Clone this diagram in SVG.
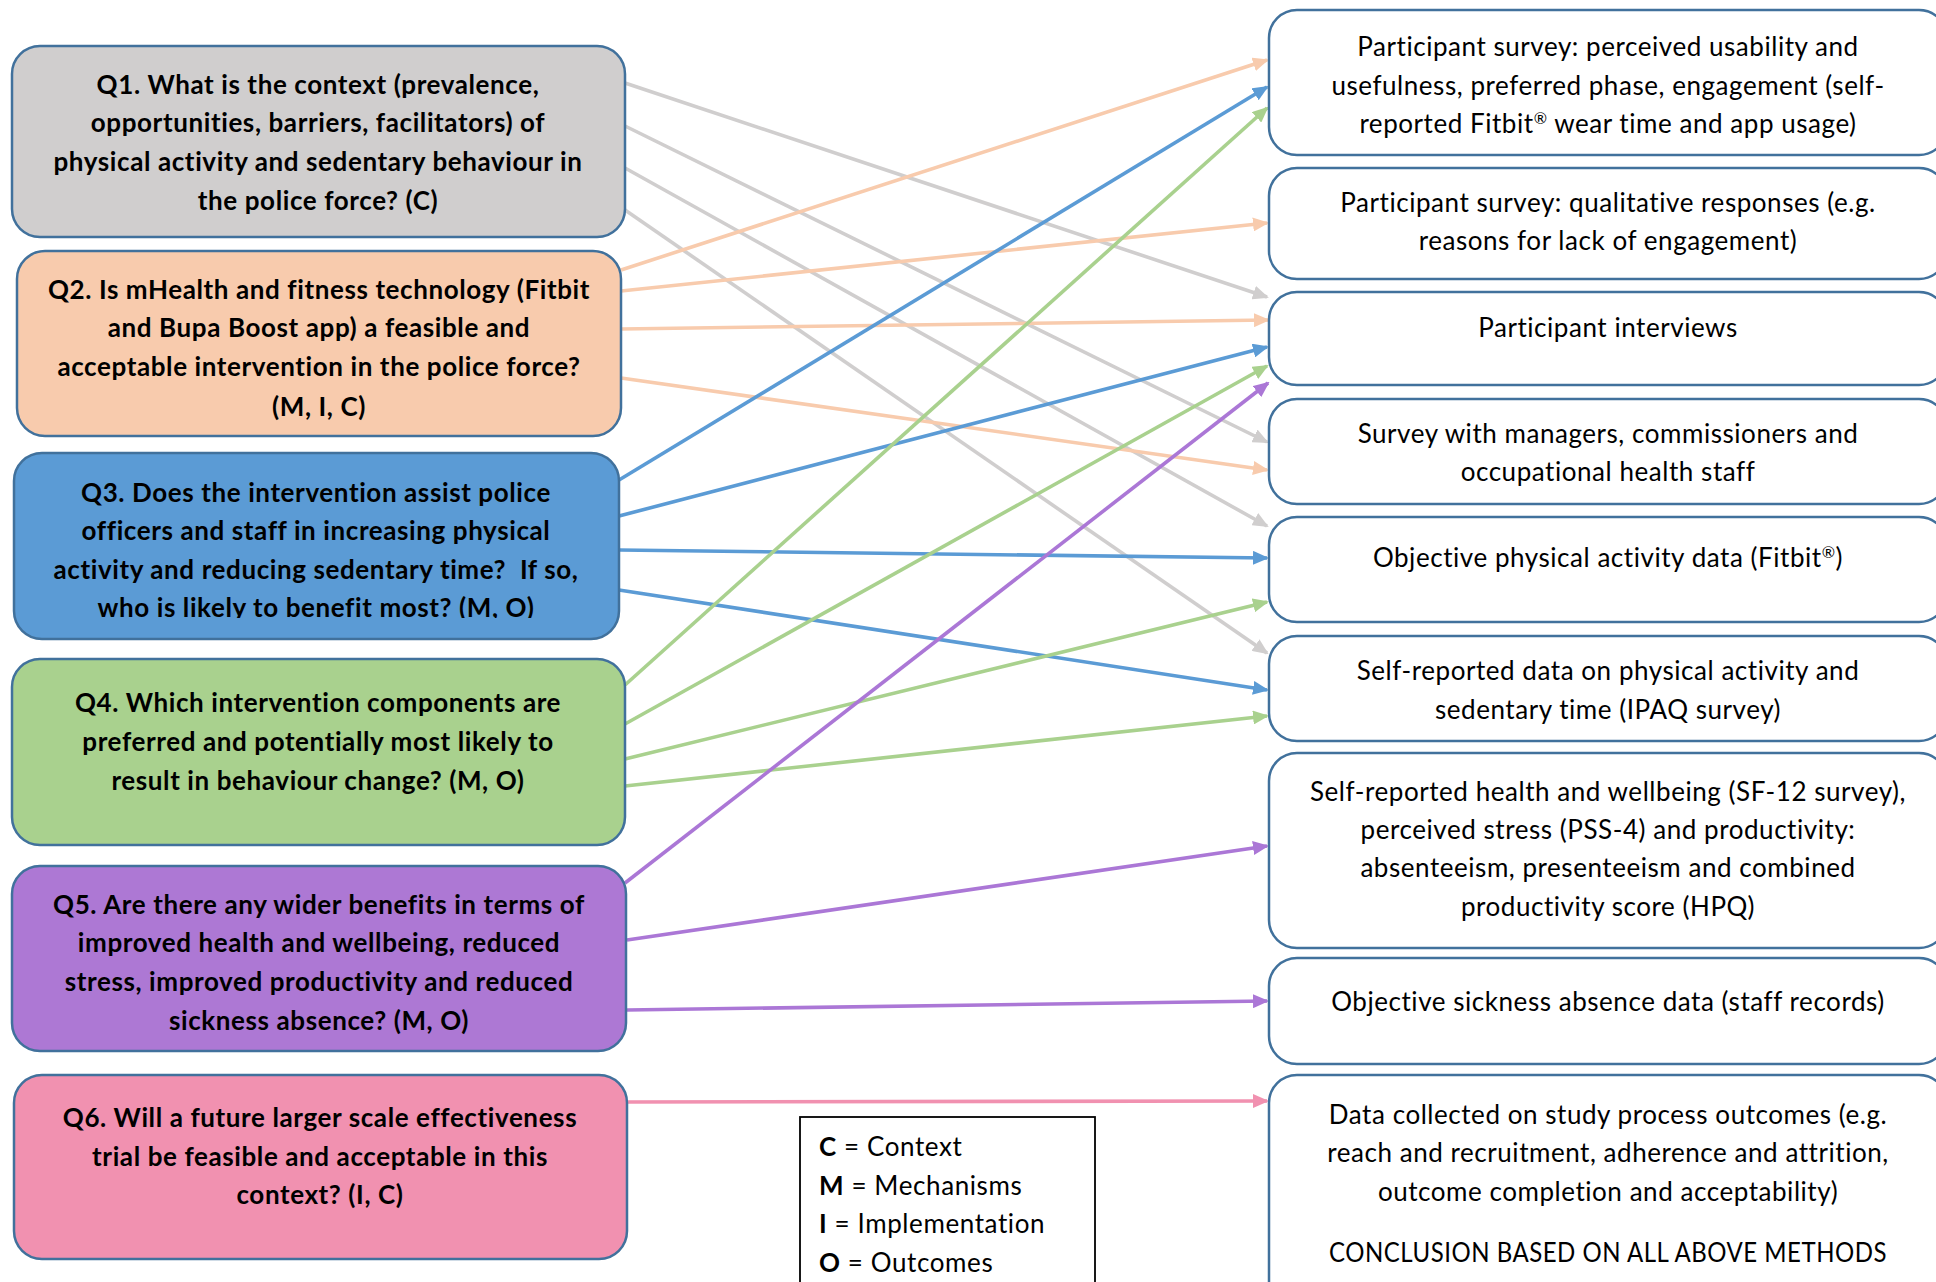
<svg xmlns="http://www.w3.org/2000/svg" width="1936" height="1282" viewBox="0 0 1936 1282">
<style>
.q{stroke:#41719C;stroke-width:2.5}
.r{fill:#FFFFFF;stroke:#41719C;stroke-width:2.5}
.qt{font-family:Lato,"Liberation Sans",sans-serif;font-weight:bold;font-size:26px;letter-spacing:0.6px;fill:#000;text-anchor:middle}
.rt{font-family:Lato,"Liberation Sans",sans-serif;font-size:26px;letter-spacing:0.55px;fill:#000;text-anchor:middle}
.lg{font-family:Lato,"Liberation Sans",sans-serif;font-size:26px;letter-spacing:0.6px;fill:#000}
.c{fill:none;stroke-width:3.6}
.sup{font-size:16px}
</style>
<defs>
<marker id="aG" viewBox="0 0 16 14" refX="14" refY="7" markerWidth="16" markerHeight="14" markerUnits="userSpaceOnUse" orient="auto"><path d="M0,0 L16,7 L0,14 z" fill="#D0CECE"/></marker>
<marker id="aP" viewBox="0 0 16 14" refX="14" refY="7" markerWidth="16" markerHeight="14" markerUnits="userSpaceOnUse" orient="auto"><path d="M0,0 L16,7 L0,14 z" fill="#F8CBAD"/></marker>
<marker id="aB" viewBox="0 0 16 14" refX="14" refY="7" markerWidth="16" markerHeight="14" markerUnits="userSpaceOnUse" orient="auto"><path d="M0,0 L16,7 L0,14 z" fill="#5B9BD5"/></marker>
<marker id="aN" viewBox="0 0 16 14" refX="14" refY="7" markerWidth="16" markerHeight="14" markerUnits="userSpaceOnUse" orient="auto"><path d="M0,0 L16,7 L0,14 z" fill="#A9D18E"/></marker>
<marker id="aU" viewBox="0 0 16 14" refX="14" refY="7" markerWidth="16" markerHeight="14" markerUnits="userSpaceOnUse" orient="auto"><path d="M0,0 L16,7 L0,14 z" fill="#AB77D6"/></marker>
<marker id="aK" viewBox="0 0 16 14" refX="14" refY="7" markerWidth="16" markerHeight="14" markerUnits="userSpaceOnUse" orient="auto"><path d="M0,0 L16,7 L0,14 z" fill="#F191B0"/></marker>
<clipPath id="q3clip"><rect x="0" y="440" width="700" height="178"/></clipPath>
</defs>
<rect width="1936" height="1282" fill="#FFFFFF"/>

<g id="connectors">
<path class="c" stroke="#D0CECE" marker-end="url(#aG)" d="M625,83 L1267,297"/>
<path class="c" stroke="#D0CECE" marker-end="url(#aG)" d="M625,126 L1267,442"/>
<path class="c" stroke="#D0CECE" marker-end="url(#aG)" d="M625,168 L1267,526"/>
<path class="c" stroke="#D0CECE" marker-end="url(#aG)" d="M625,210 L1267,653"/>
<path class="c" stroke="#F8CBAD" marker-end="url(#aP)" d="M621,270 L1267,60"/>
<path class="c" stroke="#F8CBAD" marker-end="url(#aP)" d="M621,291 L1267,223"/>
<path class="c" stroke="#F8CBAD" marker-end="url(#aP)" d="M621,329 L1268,320"/>
<path class="c" stroke="#F8CBAD" marker-end="url(#aP)" d="M621,378 L1267,470"/>
<path class="c" stroke="#5B9BD5" marker-end="url(#aB)" d="M619,480 L1267,87"/>
<path class="c" stroke="#5B9BD5" marker-end="url(#aB)" d="M619,516 L1267,347"/>
<path class="c" stroke="#5B9BD5" marker-end="url(#aB)" d="M619,550 L1267,558"/>
<path class="c" stroke="#5B9BD5" marker-end="url(#aB)" d="M619,590 L1267,690"/>
<path class="c" stroke="#A9D18E" marker-end="url(#aN)" d="M625,685 L1267,108"/>
<path class="c" stroke="#A9D18E" marker-end="url(#aN)" d="M625,724 L1267,366"/>
<path class="c" stroke="#A9D18E" marker-end="url(#aN)" d="M625,759 L1267,602"/>
<path class="c" stroke="#A9D18E" marker-end="url(#aN)" d="M625,786 L1267,716"/>
<path class="c" stroke="#AB77D6" stroke-width="3.2" marker-end="url(#aU)" d="M625,883 L1268,383"/>
<path class="c" stroke="#AB77D6" stroke-width="3.2" marker-end="url(#aU)" d="M627,940 L1267,846"/>
<path class="c" stroke="#AB77D6" stroke-width="3.2" marker-end="url(#aU)" d="M627,1010 L1267,1001"/>
<path class="c" stroke="#F191B0" stroke-width="3.2" marker-end="url(#aK)" d="M627,1102 L1267,1101"/>
</g>

<g id="q1">
<rect class="q" x="12" y="46" width="613" height="191" rx="28" fill="#D0CECE"/>
<text class="qt" x="318" y="94">Q1. What is the context (prevalence,</text>
<text class="qt" x="318" y="132">opportunities, barriers, facilitators) of</text>
<text class="qt" x="318" y="171">physical activity and sedentary behaviour in</text>
<text class="qt" x="318" y="210">the police force? (C)</text>
</g>
<g id="q2">
<rect class="q" x="17" y="251" width="604" height="185" rx="28" fill="#F8CBAD"/>
<text class="qt" x="319" y="299">Q2. Is mHealth and fitness technology (Fitbit</text>
<text class="qt" x="319" y="337">and Bupa Boost app) a feasible and</text>
<text class="qt" x="319" y="376">acceptable intervention in the police force?</text>
<text class="qt" x="319" y="416">(M, I, C)</text>
</g>
<g id="q3">
<rect class="q" x="14" y="453" width="605" height="186" rx="28" fill="#5B9BD5"/>
<g clip-path="url(#q3clip)">
<text class="qt" x="316" y="502">Q3. Does the intervention assist police</text>
<text class="qt" x="316" y="540">officers and staff in increasing physical</text>
<text class="qt" x="316" y="579" xml:space="preserve">activity and reducing sedentary time?  If so,</text>
<text class="qt" x="316" y="617">who is likely to benefit most? (M, O)</text>
</g>
</g>
<g id="q4">
<rect class="q" x="12" y="659" width="613" height="186" rx="28" fill="#A9D18E"/>
<text class="qt" x="318" y="712">Q4. Which intervention components are</text>
<text class="qt" x="318" y="751">preferred and potentially most likely to</text>
<text class="qt" x="318" y="790">result in behaviour change? (M, O)</text>
</g>
<g id="q5">
<rect class="q" x="12" y="866" width="614" height="185" rx="28" fill="#AD78D4"/>
<text class="qt" x="319" y="914">Q5. Are there any wider benefits in terms of</text>
<text class="qt" x="319" y="952">improved health and wellbeing, reduced</text>
<text class="qt" x="319" y="991">stress, improved productivity and reduced</text>
<text class="qt" x="319" y="1030">sickness absence? (M, O)</text>
</g>
<g id="q6">
<rect class="q" x="14" y="1075" width="613" height="184" rx="28" fill="#F191B0"/>
<text class="qt" x="320" y="1127">Q6. Will a future larger scale effectiveness</text>
<text class="qt" x="320" y="1166">trial be feasible and acceptable in this</text>
<text class="qt" x="320" y="1204">context? (I, C)</text>
</g>

<g id="r1">
<rect class="r" x="1269" y="10" width="678" height="145" rx="28"/>
<text class="rt" x="1608" y="56">Participant survey: perceived usability and</text>
<text class="rt" x="1608" y="95">usefulness, preferred phase, engagement (self-</text>
<text class="rt" x="1608" y="133">reported Fitbit<tspan class="sup" baseline-shift="super">®</tspan> wear time and app usage)</text>
</g>
<g id="r2">
<rect class="r" x="1269" y="168" width="678" height="111" rx="28"/>
<text class="rt" x="1608" y="212">Participant survey: qualitative responses (e.g.</text>
<text class="rt" x="1608" y="250">reasons for lack of engagement)</text>
</g>
<g id="r3">
<rect class="r" x="1269" y="292" width="678" height="93" rx="28"/>
<text class="rt" x="1608" y="337">Participant interviews</text>
</g>
<g id="r4">
<rect class="r" x="1269" y="399" width="678" height="105" rx="28"/>
<text class="rt" x="1608" y="443">Survey with managers, commissioners and</text>
<text class="rt" x="1608" y="481">occupational health staff</text>
</g>
<g id="r5">
<rect class="r" x="1269" y="517" width="678" height="105" rx="28"/>
<text class="rt" x="1608" y="567">Objective physical activity data (Fitbit<tspan class="sup" baseline-shift="super">®</tspan>)</text>
</g>
<g id="r6">
<rect class="r" x="1269" y="636" width="678" height="105" rx="28"/>
<text class="rt" x="1608" y="680">Self-reported data on physical activity and</text>
<text class="rt" x="1608" y="719">sedentary time (IPAQ survey)</text>
</g>
<g id="r7">
<rect class="r" x="1269" y="753" width="678" height="195" rx="28"/>
<text class="rt" x="1608" y="801">Self-reported health and wellbeing (SF-12 survey),</text>
<text class="rt" x="1608" y="839">perceived stress (PSS-4) and productivity:</text>
<text class="rt" x="1608" y="877">absenteeism, presenteeism and combined</text>
<text class="rt" x="1608" y="916">productivity score (HPQ)</text>
</g>
<g id="r8">
<rect class="r" x="1269" y="958" width="678" height="106" rx="28"/>
<text class="rt" x="1608" y="1011">Objective sickness absence data (staff records)</text>
</g>
<g id="r9">
<rect class="r" x="1269" y="1075" width="678" height="240" rx="28"/>
<text class="rt" x="1608" y="1124">Data collected on study process outcomes (e.g.</text>
<text class="rt" x="1608" y="1162">reach and recruitment, adherence and attrition,</text>
<text class="rt" x="1608" y="1201">outcome completion and acceptability)</text>
<text class="rt" x="1608" y="1262" textLength="558" lengthAdjust="spacingAndGlyphs">CONCLUSION BASED ON ALL ABOVE METHODS</text>
</g>

<g id="legend">
<rect x="800" y="1117" width="295" height="200" fill="#FFFFFF" stroke="#000" stroke-width="1.8"/>
<text class="lg" x="819" y="1156"><tspan font-weight="bold">C</tspan> = Context</text>
<text class="lg" x="819" y="1195"><tspan font-weight="bold">M</tspan> = Mechanisms</text>
<text class="lg" x="819" y="1233"><tspan font-weight="bold">I</tspan> = Implementation</text>
<text class="lg" x="819" y="1272"><tspan font-weight="bold">O</tspan> = Outcomes</text>
</g>
</svg>
